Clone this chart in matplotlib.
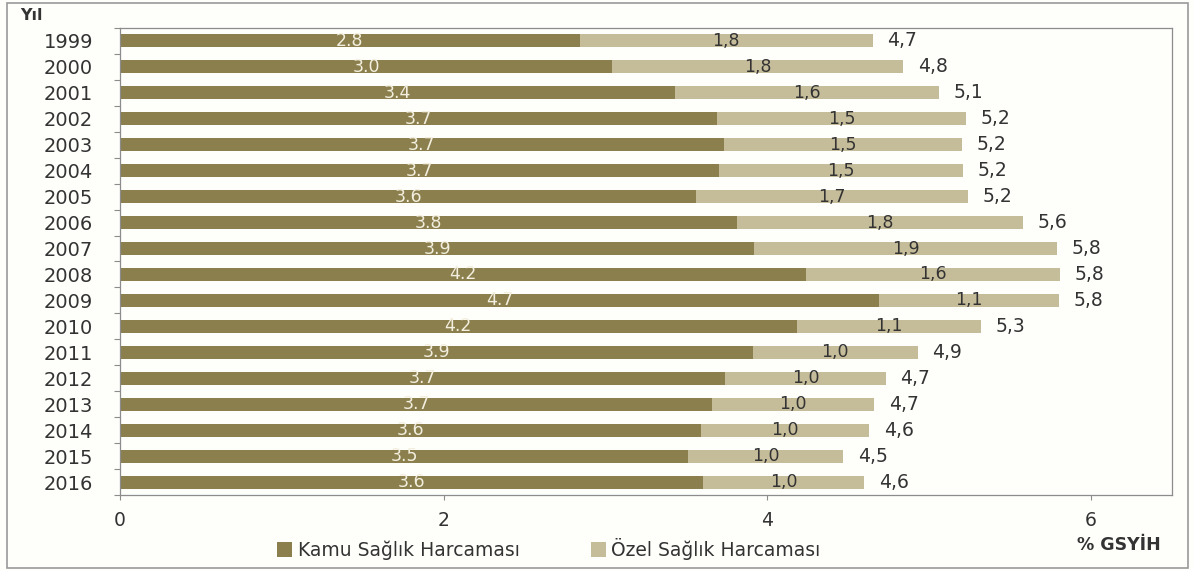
import numpy as np
import matplotlib
matplotlib.use("Agg")
import matplotlib.pyplot as plt
from matplotlib.patches import Rectangle

# data (% of GDP)
years = ["1999", "2000", "2001", "2002", "2003", "2004", "2005", "2006", "2007",
         "2008", "2009", "2010", "2011", "2012", "2013", "2014", "2015", "2016"]
kamu = [2.84, 3.04, 3.43, 3.69, 3.73, 3.70, 3.56, 3.81, 3.92,
        4.24, 4.69, 4.18, 3.91, 3.74, 3.66, 3.59, 3.51, 3.60]
ozel = [1.81, 1.80, 1.63, 1.54, 1.47, 1.51, 1.68, 1.77, 1.87,
        1.57, 1.11, 1.14, 1.02, 0.99, 1.00, 1.04, 0.96, 1.00]

kamu_color = "#8b7f4d"
ozel_color = "#c5bc99"
text_color = "#333333"

plt.rcParams["font.family"] = ["DejaVu Sans"]

fig = plt.figure(figsize=(11.93, 5.70), dpi=100)
fig.patch.set_facecolor("#fefefb")
ax = fig.add_axes([0.1006, 0.1316, 0.8818, 0.8193])
ax.set_facecolor("#fefefb")

y = np.arange(len(years))
kamu = np.array(kamu)
ozel = np.array(ozel)
total = kamu + ozel

ax.barh(y, kamu, height=0.5, color=kamu_color, label="Kamu Sağlık Harcaması")
ax.barh(y, ozel, left=kamu, height=0.5, color=ozel_color, label="Özel Sağlık Harcaması")

for i in range(len(years)):
    ax.text(kamu[i] / 2, y[i], f"{kamu[i]:.1f}", ha="center", va="center",
            color="#f3efdf", fontsize=12.5)
    ax.text(kamu[i] + ozel[i] / 2, y[i], f"{ozel[i]:.1f}".replace(".", ","),
            ha="center", va="center", color=text_color, fontsize=12.5)
    ax.text(total[i] + 0.09, y[i], f"{total[i]:.1f}".replace(".", ","),
            ha="left", va="center", color=text_color, fontsize=13.5)

ax.set_xlim(0, 6.5)
ax.set_ylim(len(years) - 0.5, -0.5)
ax.set_xticks([0, 2, 4, 6])
ax.set_yticks(y)
ax.set_yticklabels(years)
ax.set_yticks(np.arange(-0.5, len(years), 1), minor=True)
ax.tick_params(axis="y", which="major", length=0, pad=19.5, labelsize=14, labelcolor=text_color)
ax.tick_params(axis="y", which="minor", length=4.5, color="#8c8c8c", width=0.8)
ax.tick_params(axis="x", length=3.6, pad=8, color="#8c8c8c", width=0.8,
               labelsize=13.5, labelcolor=text_color)
for s in ax.spines.values():
    s.set_color("#8c8c8c")
    s.set_linewidth(0.9)

fig.text(0.017, 0.972, "Yıl", fontsize=11.5, fontweight="bold", color=text_color,
         ha="left", va="center")
fig.text(0.973, 0.044, "% GSYİH", fontsize=12.5, fontweight="bold", color=text_color,
         ha="right", va="center")

fig.legend(loc="center", bbox_to_anchor=(0.46, 0.037), ncol=2, frameon=False,
           fontsize=13.5, handlelength=0.8, handleheight=0.8, handletextpad=0.3,
           columnspacing=3.8, labelcolor=text_color)

fig.patches.append(Rectangle((0.006, 0.004), 0.99, 0.99, transform=fig.transFigure,
                             fill=False, edgecolor="#9a9a9a", linewidth=1.2))

fig.savefig("out.png", dpi=100, facecolor=fig.get_facecolor())
